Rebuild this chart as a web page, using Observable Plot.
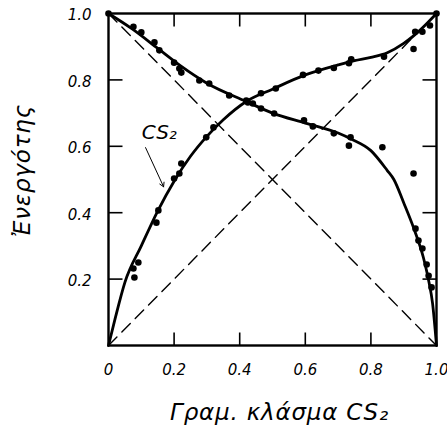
<!DOCTYPE html>
<html>
<head>
<meta charset="utf-8">
<script src="https://cdn.jsdelivr.net/npm/d3@7"></script>
<script src="https://cdn.jsdelivr.net/npm/@observablehq/plot@0.6"></script>
<style>
  html, body { margin: 0; padding: 0; background: #fff; }
  svg text { font-family: "DejaVu Sans", sans-serif; }
</style>
</head>
<body>
<div id="chart"></div>
<script>
// Smooth fitted curves
const curveX_CS2 = [0, 0.02, 0.05, 0.10, 0.15, 0.20, 0.25, 0.30, 0.35, 0.42, 0.50, 0.60, 0.70, 0.75, 0.80, 0.85, 0.90, 0.95, 1.0];
const curveY_CS2 = [0, 0.08, 0.19, 0.30, 0.405, 0.495, 0.57, 0.63, 0.68, 0.735, 0.772, 0.815, 0.845, 0.858, 0.868, 0.882, 0.91, 0.95, 1.0];

const curveX_other = [0, 0.07, 0.15, 0.22, 0.30, 0.42, 0.50, 0.60, 0.70, 0.74, 0.80, 0.85, 0.87, 0.90, 0.93, 0.96, 0.976, 0.988, 1.0];
const curveY_other = [1, 0.955, 0.895, 0.842, 0.79, 0.735, 0.70, 0.67, 0.64, 0.622, 0.587, 0.527, 0.50, 0.43, 0.355, 0.265, 0.196, 0.127, 0];

// Measured points
const ptsX_CS2 = [0.076, 0.079, 0.091, 0.146, 0.152, 0.20, 0.216, 0.222, 0.298, 0.32, 0.42, 0.465, 0.51, 0.593, 0.64, 0.687, 0.733, 0.74, 0.84, 0.93, 0.935, 0.957, 0.98, 1.0];
const ptsY_CS2 = [0.232, 0.205, 0.25, 0.37, 0.407, 0.503, 0.518, 0.548, 0.627, 0.657, 0.738, 0.76, 0.774, 0.815, 0.828, 0.836, 0.85, 0.862, 0.87, 0.893, 0.945, 0.945, 0.964, 1.0];

const ptsX_other = [0, 0.076, 0.10, 0.14, 0.155, 0.20, 0.216, 0.222, 0.277, 0.307, 0.368, 0.425, 0.44, 0.465, 0.505, 0.596, 0.623, 0.687, 0.738, 0.733, 0.835, 0.93, 0.936, 0.945, 0.957, 0.97, 0.976, 0.985];
const ptsY_other = [1.0, 0.96, 0.943, 0.913, 0.889, 0.852, 0.834, 0.822, 0.798, 0.789, 0.753, 0.732, 0.729, 0.714, 0.699, 0.678, 0.66, 0.639, 0.627, 0.602, 0.597, 0.518, 0.352, 0.316, 0.292, 0.244, 0.21, 0.175];

// Ideal (Raoult) lines
const idealX = [0, 1];
const idealY_CS2 = [0, 1];
const idealY_other = [1, 0];

// Ticks and labels
const xTickValues = [0, 0.2, 0.4, 0.6, 0.8, 1.0];
const xTickLabels = ["0", "0.2", "0.4", "0.6", "0.8", "1.0"];
const yTickValues = [0.2, 0.4, 0.6, 0.8, 1.0];
const yTickLabels = ["0.2", "0.4", "0.6", "0.8", "1.0"];
const innerTicks = [0.2, 0.4, 0.6, 0.8];

const xTitle = "Γραμ. κλάσμα CS₂";
const yTitle = "Ἐνεργότης";
const seriesLabel = "CS₂";
const labelPos = {x: 0.155, y: 0.64};
const arrowFrom = {x: 0.113, y: 0.596};
const arrowTo = {x: 0.168, y: 0.478};

const zip = (xs, ys) => xs.map((x, i) => ({x, y: ys[i]}));

const W = 447, H = 428, ML = 108, MR = 11, MT = 13, MB = 83;
const plotW = W - ML - MR, plotH = H - MT - MB;
// tick lengths (pixels) expressed as fractions of the unit square
const tlx = 13 / plotH, tly = 14 / plotW;

const tickStyle = {stroke: "black", strokeWidth: 1.6};

const chart = Plot.plot({
  width: W,
  height: H,
  marginLeft: ML,
  marginRight: MR,
  marginTop: MT,
  marginBottom: MB,
  x: {domain: [0, 1], label: null, axis: null},
  y: {domain: [0, 1], label: null, axis: null},
  marks: [
    // Ideal dashed diagonals
    Plot.line(zip(idealX, idealY_CS2), {x: "x", y: "y", stroke: "black", strokeWidth: 1.4, strokeDasharray: "12,7"}),
    Plot.line(zip(idealX, idealY_other), {x: "x", y: "y", stroke: "black", strokeWidth: 1.4, strokeDasharray: "12,7"}),
    // Fitted curves
    Plot.line(zip(curveX_CS2, curveY_CS2), {x: "x", y: "y", stroke: "black", strokeWidth: 2.8, curve: "monotone-x"}),
    Plot.line(zip(curveX_other, curveY_other), {x: "x", y: "y", stroke: "black", strokeWidth: 2.8, curve: "monotone-x"}),
    // Points
    Plot.dot(zip(ptsX_CS2, ptsY_CS2), {x: "x", y: "y", r: 3.3, fill: "black"}),
    Plot.dot(zip(ptsX_other, ptsY_other), {x: "x", y: "y", r: 3.3, fill: "black"}),
    // Frame
    Plot.frame({stroke: "black", strokeWidth: 2.4}),
    // Inward ticks on all four sides
    Plot.link(innerTicks, {x1: d => d, x2: d => d, y1: 0, y2: tlx, ...tickStyle}),
    Plot.link(innerTicks, {x1: d => d, x2: d => d, y1: 1, y2: 1 - tlx, ...tickStyle}),
    Plot.link(innerTicks, {y1: d => d, y2: d => d, x1: 0, x2: tly, ...tickStyle}),
    Plot.link(innerTicks, {y1: d => d, y2: d => d, x1: 1, x2: 1 - tly, ...tickStyle}),
    // Tick labels
    Plot.axisX({anchor: "bottom", ticks: xTickValues, tickSize: 0, tickPadding: 19, tickFormat: (d, i) => xTickLabels[i], fontSize: 15, fontStyle: "italic", label: null}),
    Plot.axisY({anchor: "left", ticks: yTickValues, tickSize: 0, tickPadding: 17, tickFormat: (d, i) => yTickLabels[i], fontSize: 15, fontStyle: "italic", dy: 2, label: null}),
    // Series label + arrow
    Plot.text([seriesLabel], {x: labelPos.x, y: labelPos.y, text: d => d, fontSize: 20, fontStyle: "italic", fill: "black"}),
    Plot.arrow([0], {x1: arrowFrom.x, y1: arrowFrom.y, x2: arrowTo.x, y2: arrowTo.y, stroke: "black", strokeWidth: 1, headLength: 7}),
    // Axis titles (anchored to the frame via the scales, offset in pixels)
    Plot.text([xTitle], {x: 0.5, y: 0, textAnchor: "middle", lineAnchor: "middle", text: d => d, dx: 7, dy: 67, fontSize: 23, fontStyle: "italic", fill: "black"}),
    Plot.text([yTitle], {x: 0, y: 0.5, textAnchor: "middle", lineAnchor: "middle", text: d => d, dx: -86, dy: -9, rotate: -90, fontSize: 23, fontStyle: "italic", fill: "black"})
  ]
});

// Wider lettering like the original stencil font
d3.select(chart).selectAll("text").filter(function() {
  const t = this.textContent;
  return t === xTitle || t === yTitle;
}).attr("letter-spacing", 0.8);

document.getElementById("chart").appendChild(chart);
</script>
</body>
</html>
